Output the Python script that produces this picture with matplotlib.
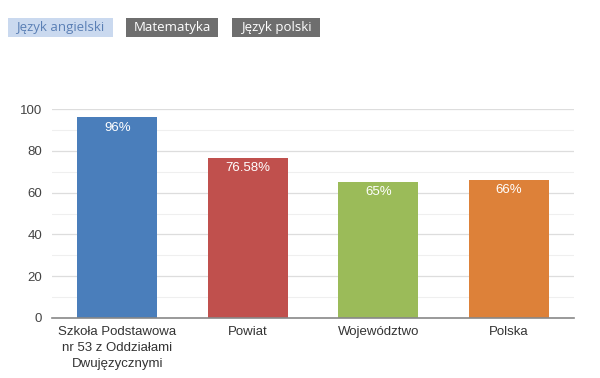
import numpy as np
import matplotlib.pyplot as plt

categories = ['Szkoła Podstawowa\nnr 53 z Oddziałami\nDwujęzycznymi', 'Powiat', 'Województwo', 'Polska']
values = [96, 76.58, 65, 66]
labels = ['96%', '76.58%', '65%', '66%']
colors = ['#4a7ebb', '#c0504d', '#9bbb59', '#dd8139']
tabs = ['Język angielski', 'Matematyka', 'Język polski']

plt.rcParams['font.family'] = ['Liberation Sans', 'DejaVu Sans']

fig = plt.figure(figsize=(6, 3.78), dpi=100)
ax = fig.add_axes([52 / 600, 1 - 318 / 378, 522 / 600, 209 / 378])

x = np.arange(len(categories))
bars = ax.bar(x, values, width=0.61, color=colors, zorder=3)
for b, lab in zip(bars, labels):
    ax.text(b.get_x() + b.get_width() / 2, b.get_height() - 2, lab,
            ha='center', va='top', color='white', fontsize=9.5, zorder=4)

ax.set_xlim(-0.5, len(categories) - 0.5)
ax.set_ylim(0, 100)
ax.set_yticks(range(0, 101, 20))
ax.set_yticks(range(10, 100, 20), minor=True)
ax.grid(axis='y', which='major', color='#dddddd', lw=0.9, zorder=0)
ax.grid(axis='y', which='minor', color='#efefef', lw=0.8, zorder=0)
ax.set_xticks(x)
ax.set_xticklabels(categories, fontsize=9.5, color='#333333', linespacing=1.45)
ax.tick_params(axis='y', which='both', length=0, labelsize=9.5, labelcolor='#444444', pad=7)
ax.tick_params(axis='x', length=0, pad=6)
for s in ['top', 'right', 'left']:
    ax.spines[s].set_visible(False)
ax.spines['bottom'].set_color('#888888')
ax.spines['bottom'].set_linewidth(1.2)
ax.spines['bottom'].set_zorder(5)

# tab buttons at the top
tab_pos = [(8, 113), (126, 218), (232, 320)]
for i, (t, (x0, x1)) in enumerate(zip(tabs, tab_pos)):
    fc = '#cad9ef' if i == 0 else '#6e6e6e'
    tc = '#5a7fb5' if i == 0 else 'white'
    fig.patches.append(plt.Rectangle((x0 / 600, 1 - 37 / 378), (x1 - x0) / 600, 19 / 378,
                                     transform=fig.transFigure, facecolor=fc, edgecolor='none'))
    fig.text((x0 + x1) / 2 / 600, 1 - 27.5 / 378, t, ha='center', va='center',
             color=tc, fontsize=9.5, family=['Open Sans', 'DejaVu Sans'])

fig.savefig('out.png', dpi=100, facecolor='white')
